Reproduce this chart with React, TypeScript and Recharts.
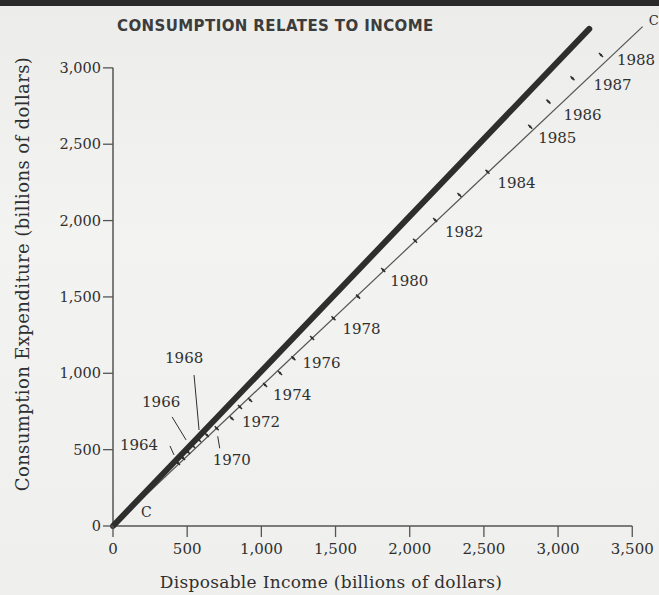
import React from 'react';
import { ScatterChart, Scatter, XAxis, YAxis, ReferenceLine, Label } from 'recharts';

const title = 'CONSUMPTION RELATES TO INCOME';
const xLabel = 'Disposable Income (billions of dollars)';
const yLabel = 'Consumption Expenditure (billions of dollars)';

const years = [1964, 1965, 1966, 1967, 1968, 1969, 1970, 1971, 1972, 1973, 1974, 1975, 1976, 1977, 1978, 1979, 1980, 1981, 1982, 1983, 1984, 1985, 1986, 1987, 1988];
const income = [438, 472, 506, 540, 580, 632, 699, 800, 856, 924, 1025, 1126, 1216, 1342, 1486, 1652, 1821, 2036, 2171, 2335, 2524, 2812, 2935, 3097, 3289];
const consumption = [413, 445, 485, 524, 563, 596, 640, 705, 779, 825, 923, 1002, 1098, 1231, 1360, 1502, 1676, 1868, 2004, 2168, 2320, 2615, 2779, 2932, 3084];
const labeledYears = [1964, 1966, 1968, 1970, 1972, 1974, 1976, 1978, 1980, 1982, 1984, 1985, 1986, 1987, 1988];

const xTicks = [0, 500, 1000, 1500, 2000, 2500, 3000, 3500];
const yTicks = [0, 500, 1000, 1500, 2000, 2500, 3000];
const xDomain = [0, 3660];
const yDomain = [0, 3320];

// 45-degree guide line end and consumption function C end (data units)
const guideEnd = { x: 3210, y: 3255 };
const consumptionLineEnd = { x: 3570, y: 3270 };
const consumptionLineName = 'C';

const points = years.map((year, i) => ({ year, income: income[i], consumption: consumption[i] }));

// label placement (pixels relative to the marker)
const labelPlacement: Record<number, { dx: number; dy: number; leader?: number[] }> = {
  1964: { dx: -58, dy: -18, leader: [-8, -17, -4, -8] },
  1966: { dx: -46, dy: -50, leader: [-16, -35, -2, -12] },
  1968: { dx: -34, dy: -82, leader: [-5, -65, 0, -10] },
  1970: { dx: -4, dy: 32, leader: [1, 8, 3, 20] },
  1972: { dx: 2, dy: 15 },
  1974: { dx: 8, dy: 10 },
  1976: { dx: 9, dy: 5 },
  1978: { dx: 9, dy: 11 },
  1980: { dx: 7, dy: 11 },
  1982: { dx: 10, dy: 12 },
  1984: { dx: 10, dy: 11 },
  1985: { dx: 8, dy: 11 },
  1986: { dx: 15, dy: 13 },
  1987: { dx: 21, dy: 7 },
  1988: { dx: 16, dy: 5 },
};

const ink = '#2f2f2f';
const serif = '"DejaVu Serif", "Liberation Serif", serif';
const fmt = (v: number) => v.toLocaleString('en-US');

const PointShape = (props: any) => {
  const { cx, cy, payload } = props;
  if (cx == null || cy == null) return null;
  const year = payload.year;
  const place = labeledYears.includes(year) ? labelPlacement[year] : null;
  return (
    <g>
      <line x1={cx - 2} y1={cy - 2} x2={cx + 2} y2={cy + 2} stroke={ink} strokeWidth={1.5} />
      <circle cx={cx} cy={cy} r={1.2} fill={ink} />
      {place && place.leader && (
        <line
          x1={cx + place.leader[0]}
          y1={cy + place.leader[1]}
          x2={cx + place.leader[2]}
          y2={cy + place.leader[3]}
          stroke={ink}
          strokeWidth={1}
        />
      )}
      {place && (
        <text
          x={cx + place.dx}
          y={cy + place.dy}
          textAnchor="start"
          dominantBaseline="central"
          fontFamily={serif}
          fontSize={15}
          fill={ink}
        >
          {year}
        </text>
      )}
    </g>
  );
};

const CLabel = (props: any) => {
  const vb = props.viewBox || {};
  const x0 = vb.x ?? 0;
  const y0 = vb.y ?? 0;
  const w = vb.width ?? 0;
  const h = vb.height ?? 0;
  return (
    <g>
      <text x={x0 + 28} y={y0 + h - 14} fontFamily={serif} fontSize={14} fill={ink} dominantBaseline="central">
        {consumptionLineName}
      </text>
      <text x={x0 + w + 6} y={y0 - 6} fontFamily={serif} fontSize={13} fill={ink} dominantBaseline="central">
        {consumptionLineName}
      </text>
    </g>
  );
};

const XLabel = (props: any) => {
  const vb = props.viewBox || {};
  return (
    <text
      x={(vb.x ?? 0) + 218}
      y={(vb.y ?? 0) + 62}
      textAnchor="middle"
      fontFamily={serif}
      fontSize={17}
      letterSpacing={0.3}
      fill={ink}
    >
      {xLabel}
    </text>
  );
};

const YLabel = () => {
  const cx = 22;
  const cy = 274;
  return (
    <text
      x={cx}
      y={cy}
      textAnchor="middle"
      dominantBaseline="central"
      transform={`rotate(-90, ${cx}, ${cy})`}
      fontFamily={serif}
      fontSize={18}
      letterSpacing={0.4}
      fill={ink}
    >
      {yLabel}
    </text>
  );
};

export default function App() {
  return (
    <div
      style={{
        position: 'absolute',
        left: 0,
        top: 0,
        width: 659,
        height: 595,
        overflow: 'hidden',
        background: 'linear-gradient(180deg, #ececea 0%, #f3f3f1 40%, #efefed 100%)',
      }}
    >
      <div style={{ position: 'absolute', left: 0, top: 0, width: 659, height: 6, background: '#2a2a2a' }} />
      <div
        style={{
          position: 'absolute',
          left: 117,
          top: 17,
          fontFamily: '"DejaVu Sans", sans-serif',
          fontWeight: 'bold',
          fontSize: 15,
          letterSpacing: 0.4,
          color: '#3c3c3c',
          whiteSpace: 'nowrap',
        }}
      >
        {title}
      </div>
      <ScatterChart width={659} height={595} margin={{ top: 19, right: 3, bottom: 0, left: 0 }}>
        <XAxis
          type="number"
          dataKey="income"
          domain={xDomain}
          ticks={xTicks}
          allowDataOverflow
          axisLine={false}
          tickSize={11}
          tickMargin={6}
          tickLine={{ stroke: '#555', strokeWidth: 1.3 }}
          tick={{ fontFamily: serif, fontSize: 15, fill: ink }}
          tickFormatter={fmt}
          height={69}
        >
          <Label content={<XLabel />} />
        </XAxis>
        <YAxis
          type="number"
          dataKey="consumption"
          domain={yDomain}
          ticks={yTicks}
          allowDataOverflow
          axisLine={false}
          tickSize={10}
          tickLine={{ stroke: '#555', strokeWidth: 1.3 }}
          tick={{ fontFamily: serif, fontSize: 14.5, fill: ink }}
          tickFormatter={fmt}
          width={113}
        >
          <Label content={<YLabel />} />
        </YAxis>
        <ReferenceLine
          segment={[{ x: 0, y: 0 }, { x: xTicks[xTicks.length - 1], y: 0 }]}
          stroke="#555"
          strokeWidth={1.5}
          ifOverflow="visible"
        />
        <ReferenceLine
          segment={[{ x: 0, y: 0 }, { x: 0, y: yTicks[yTicks.length - 1] }]}
          stroke="#555"
          strokeWidth={1.5}
          ifOverflow="visible"
        />
        <ReferenceLine
          segment={[{ x: 0, y: 0 }, consumptionLineEnd]}
          stroke="#555"
          strokeWidth={1.2}
          ifOverflow="visible"
        >
          <Label content={<CLabel />} />
        </ReferenceLine>
        <ReferenceLine
          segment={[{ x: 0, y: 0 }, guideEnd]}
          stroke="#2e2e2e"
          strokeWidth={6}
          strokeLinecap="round"
          ifOverflow="visible"
        />
        <Scatter data={points} shape={<PointShape />} isAnimationActive={false} />
      </ScatterChart>
    </div>
  );
}
